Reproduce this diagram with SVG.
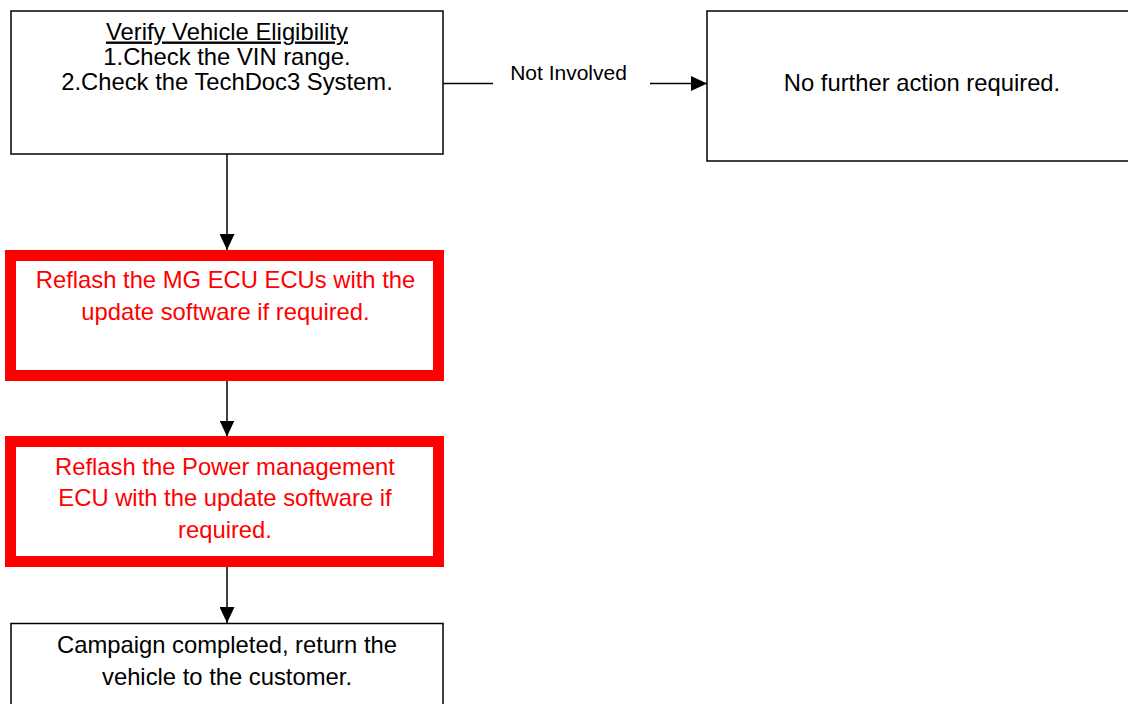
<svg xmlns="http://www.w3.org/2000/svg" width="1128" height="704" viewBox="0 0 1128 704">
  <style>
    .box { fill: #ffffff; stroke: #000000; stroke-width: 1.5; }
    .redbox { fill: #ffffff; stroke: #ff0000; stroke-width: 11; }
    .t { font-family: "Liberation Sans", Arial, sans-serif; font-size: 23.8px; text-anchor: middle; fill: #000000; }
    .tr { fill: #ff0000; }
    .lbl { font-family: "Liberation Sans", Arial, sans-serif; font-size: 21px; text-anchor: middle; fill: #000000; }
    .conn { fill: none; stroke: #000000; stroke-width: 1.5; }
  </style>
  <defs>
    <marker id="arrow" viewBox="0 0 16 15" refX="16" refY="7.5" markerWidth="16" markerHeight="15" markerUnits="userSpaceOnUse" orient="auto">
      <path d="M0,0 L16,7.5 L0,15 Z" fill="#000000"/>
    </marker>
  </defs>
  <rect x="0" y="0" width="1128" height="704" fill="#ffffff"/>

  <g id="connectors">
    <line class="conn" x1="227" y1="154" x2="227" y2="250" marker-end="url(#arrow)"/>
    <line class="conn" x1="227" y1="370" x2="227" y2="436.5" marker-end="url(#arrow)"/>
    <line class="conn" x1="227" y1="557" x2="227" y2="623" marker-end="url(#arrow)"/>
    <line class="conn" x1="443" y1="83.5" x2="493" y2="83.5"/>
    <line class="conn" x1="650" y1="83.5" x2="707" y2="83.5" marker-end="url(#arrow)"/>
    <text class="lbl" x="568.5" y="80">Not Involved</text>
  </g>

  <g id="verify">
    <rect class="box" x="11" y="11" width="432" height="143"/>
    <text class="t" x="227" y="39.5" text-decoration="underline">Verify Vehicle Eligibility</text>
    <text class="t" x="227" y="64.5">1.Check the VIN range.</text>
    <text class="t" x="227" y="89.5">2.Check the TechDoc3 System.</text>
  </g>

  <g id="no-action">
    <rect class="box" x="707" y="11" width="440" height="150"/>
    <text class="t" x="922" y="90.5">No further action required.</text>
  </g>

  <g id="reflash-mg">
    <rect class="redbox" x="10.5" y="255.5" width="428" height="120"/>
    <text class="t tr" x="225.5" y="288">Reflash the MG ECU ECUs with the</text>
    <text class="t tr" x="225.5" y="320">update software if required.</text>
  </g>

  <g id="reflash-power">
    <rect class="redbox" x="10.5" y="441.5" width="428" height="120"/>
    <text class="t tr" x="225" y="474.5">Reflash the Power management</text>
    <text class="t tr" x="225" y="506">ECU with the update software if</text>
    <text class="t tr" x="225" y="538">required.</text>
  </g>

  <g id="complete">
    <rect class="box" x="11" y="623.5" width="432" height="110"/>
    <text class="t" x="227" y="653">Campaign completed, return the</text>
    <text class="t" x="227" y="685">vehicle to the customer.</text>
  </g>
</svg>
